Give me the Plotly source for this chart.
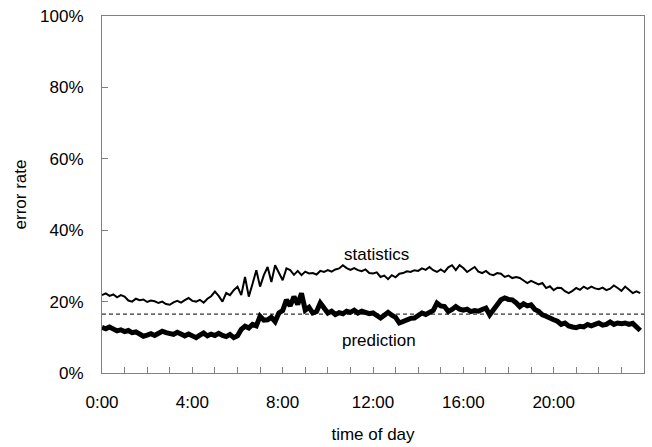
import plotly.graph_objects as go

# time of day in hours, 10-minute steps
hours = [i / 6 for i in range(144)]

statistics = [
    21.8, 22.3, 21.6, 22.0, 21.2, 21.8,
    21.4, 20.3, 20.0, 20.8, 20.4, 20.6,
    19.9, 20.3, 20.1, 19.6, 20.0, 19.3,
    19.1, 19.8, 20.2, 19.7, 20.4, 21.0,
    20.2, 20.0, 20.5, 19.7, 20.8, 21.5,
    22.8, 21.6, 20.0, 22.4, 21.8, 23.2,
    24.2, 21.8, 26.9, 21.4, 25.0, 28.8,
    24.2, 27.4, 29.7, 25.5, 30.2, 27.9,
    26.0, 29.3, 28.8, 27.5, 28.6, 27.4,
    28.4, 27.9, 28.0, 27.6, 28.6, 28.3,
    28.8, 28.4, 29.0, 29.3, 30.2, 29.4,
    28.9, 29.4, 28.8, 28.5, 29.0, 28.0,
    27.9, 28.2, 26.9, 27.3, 26.3, 27.4,
    26.8, 27.8, 28.0, 28.5, 28.3, 28.8,
    28.6, 29.3, 28.9, 29.7, 28.8, 28.3,
    29.0, 28.3, 29.6, 30.2, 28.8, 30.2,
    29.4, 28.3, 29.0, 29.7, 28.4, 28.0,
    28.6, 27.7, 27.4, 28.0, 27.8, 26.9,
    27.3, 26.6, 26.9, 26.6, 25.9, 25.2,
    25.8, 25.2, 24.8, 25.2, 23.8, 24.3,
    23.2, 23.9, 23.8, 22.9, 22.4, 23.0,
    23.8, 23.3, 24.2, 23.6, 24.2, 23.7,
    23.5, 23.9, 23.2, 23.6, 24.5, 23.8,
    23.0, 24.2, 23.4, 22.4, 22.9, 22.4,
]

prediction = [
    12.8, 12.4, 12.9, 12.2, 11.8, 12.1,
    11.6, 11.9, 11.3, 11.5, 11.0, 10.3,
    10.6, 11.0, 10.5, 11.2, 11.7, 11.3,
    11.2, 10.8, 11.4, 10.8, 10.4, 10.9,
    10.5, 9.9, 10.6, 11.2, 10.4, 10.9,
    10.5, 11.1, 10.5, 10.2, 10.8, 9.9,
    10.4, 12.2, 13.1, 12.6, 13.6, 13.2,
    15.9, 14.8, 14.9, 15.6, 14.4, 16.8,
    17.5, 20.5, 18.8, 21.4, 19.2, 22.3,
    17.6, 18.4, 16.8, 17.2, 19.6, 17.9,
    16.8, 17.3, 16.4, 16.9, 16.6, 17.3,
    17.0, 17.6, 16.8, 17.3, 17.0, 16.6,
    16.8, 15.9, 15.4, 16.2, 17.0, 16.2,
    15.6, 14.0, 14.5, 14.9, 15.3, 15.4,
    16.1, 16.8, 16.4, 16.8, 17.5, 19.6,
    18.8, 18.6, 17.2, 17.8, 18.6, 17.9,
    17.6, 17.9, 17.2, 17.5, 17.3, 17.8,
    18.2, 16.3, 18.0, 19.1, 20.5, 21.0,
    20.6, 20.5, 19.7, 18.6, 19.4, 18.8,
    19.1, 17.8, 17.3, 16.3, 15.9, 15.2,
    14.9, 14.5, 13.6, 14.0, 13.2, 12.9,
    12.7, 13.1, 12.9, 13.6, 13.2, 13.6,
    14.0, 13.4, 13.6, 14.3, 13.6, 14.0,
    13.8, 14.0, 13.6, 13.9, 12.9, 11.9,
]

reference_level = 16.5

x_tick_vals = list(range(24))
x_tick_text = [f"{h}:00" if h % 4 == 0 else "" for h in x_tick_vals]
y_tick_vals = [0, 20, 40, 60, 80, 100]
y_tick_text = [f"{v}%" for v in y_tick_vals]

FONT = "Liberation Sans, Arial, sans-serif"

fig = go.Figure()
fig.add_trace(go.Scatter(x=[0, 24], y=[reference_level, reference_level], mode="lines",
                         line=dict(color="black", width=1, dash="4px,3px"),
                         hoverinfo="skip", showlegend=False))
fig.add_trace(go.Scatter(x=hours, y=statistics, mode="lines", name="statistics",
                         line=dict(color="black", width=2), showlegend=False))
fig.add_trace(go.Scatter(x=hours, y=prediction, mode="lines", name="prediction",
                         line=dict(color="black", width=5), showlegend=False))

fig.add_annotation(x=12.15, y=33.2, text="statistics", showarrow=False,
                   font=dict(family=FONT, size=17, color="black"))
fig.add_annotation(x=12.25, y=9.1, text="prediction", showarrow=False,
                   font=dict(family=FONT, size=17, color="black"))

fig.update_layout(
    width=652, height=447,
    margin=dict(l=102, r=7, t=13, b=73),
    paper_bgcolor="white", plot_bgcolor="white",
    font=dict(family=FONT, size=17, color="black"),
    showlegend=False,
)
fig.update_xaxes(
    range=[0, 24], tickvals=x_tick_vals, ticktext=x_tick_text,
    ticks="inside", ticklen=6, tickcolor="#808080", tickwidth=1,
    showline=True, linecolor="#808080", linewidth=1, mirror=True,
    showgrid=False, zeroline=False, ticklabelstandoff=14,
    title=dict(text="time of day", standoff=16, font=dict(size=17)),
)
fig.update_yaxes(
    range=[0, 100], tickvals=y_tick_vals, ticktext=y_tick_text,
    ticks="inside", ticklen=6, tickcolor="#808080", tickwidth=1,
    showline=True, linecolor="#808080", linewidth=1, mirror=True,
    showgrid=False, zeroline=False, ticklabelstandoff=14,
    title=dict(text="error rate", standoff=9, font=dict(size=17)),
)

fig.write_html("out.html")
